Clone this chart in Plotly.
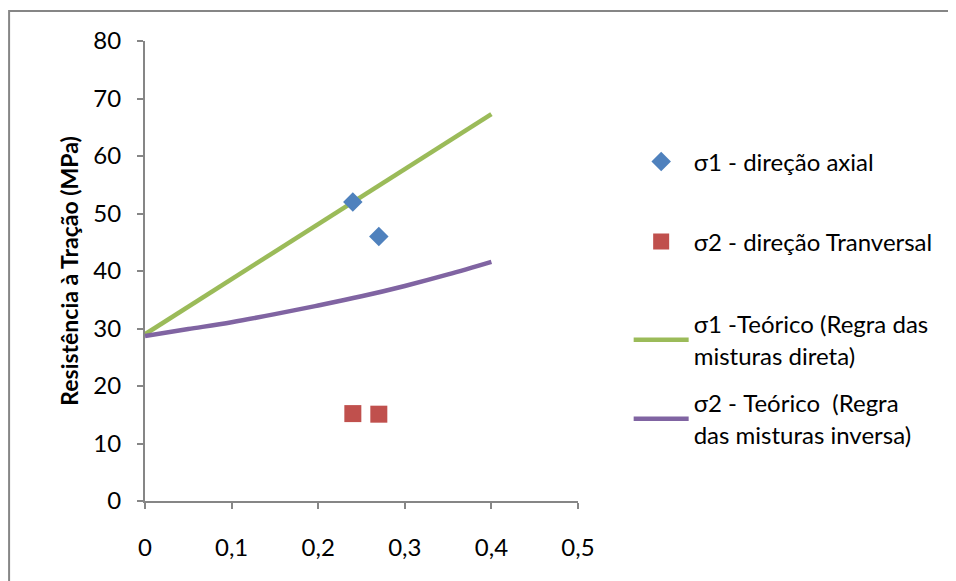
import plotly.graph_objects as go

# Data
vf_exp = [0.24, 0.27]
sigma1_exp = [52.0, 46.0]
sigma2_exp = [15.2, 15.1]

vf_theo = [0.0, 0.05, 0.1, 0.15, 0.2, 0.25, 0.3, 0.35, 0.4]
sigma1_theo = [29.0, 33.8, 38.6, 43.3, 48.1, 52.9, 57.7, 62.5, 67.3]
sigma2_theo = [28.7, 29.9, 31.1, 32.5, 34.0, 35.6, 37.4, 39.4, 41.6]

x_ticks = [0, 0.1, 0.2, 0.3, 0.4, 0.5]
x_ticklabels = ["0", "0,1", "0,2", "0,3", "0,4", "0,5"]
y_ticks = [0, 10, 20, 30, 40, 50, 60, 70, 80]

names = [
    "σ1 - direção axial",
    "σ2 - direção Tranversal",
    "σ1 -Teórico (Regra das<br>misturas direta)",
    "σ2 - Teórico  (Regra<br>das misturas inversa)",
]

FONT = "Lato, 'Open Sans', sans-serif"
AXIS = "#868686"
FS = 24

fig = go.Figure()
fig.add_trace(go.Scatter(x=vf_theo, y=sigma1_theo, mode="lines", name=names[2],
                         line=dict(color="#9BBB59", width=4.5), legend="legend3"))
fig.add_trace(go.Scatter(x=vf_theo, y=sigma2_theo, mode="lines", name=names[3],
                         line=dict(color="#8064A2", width=4.5, shape="spline"), legend="legend4"))
fig.add_trace(go.Scatter(x=vf_exp, y=sigma1_exp, mode="markers", name=names[0],
                         marker=dict(symbol="diamond", size=15, color="#4F81BD"), legend="legend"))
fig.add_trace(go.Scatter(x=vf_exp, y=sigma2_exp, mode="markers", name=names[1],
                         marker=dict(symbol="square", size=17, color="#C0504D"), legend="legend2"))

# the page body adds an 8px offset; work in page pixels and convert
OFF = 8
W, H = 956 - OFF, 581 - OFF
PL, PR, PT, PB = 145, 578.3, 41, 501  # plot area in page pixels
L = PL - OFF
T = PT - OFF
R = W - (PR - OFF)
B = H - (PB - OFF)
pw = W - L - R
ph = H - T - B

def px_to_paper_x(px):
    return (px - OFF - L) / pw

def px_to_paper_y(py):
    return (H - B - (py - OFF)) / ph

legend_common = dict(xanchor="left", yanchor="middle", bgcolor="rgba(0,0,0,0)",
                     font=dict(family=FONT, size=FS, color="#000000"), borderwidth=0,
                     itemwidth=55)

LX = 629
fig.update_layout(
    width=W, height=H, autosize=False,
    margin=dict(l=L, r=R, t=T, b=B, pad=0),
    paper_bgcolor="white", plot_bgcolor="white",
    separators=",.",
    showlegend=True,
    font=dict(family=FONT, size=FS, color="#000000"),
    legend=dict(x=px_to_paper_x(LX), y=px_to_paper_y(162), **legend_common),
    legend2=dict(x=px_to_paper_x(LX), y=px_to_paper_y(242), **legend_common),
    legend3=dict(x=px_to_paper_x(LX), y=px_to_paper_y(340), **legend_common),
    legend4=dict(x=px_to_paper_x(LX), y=px_to_paper_y(419), **legend_common),
    xaxis=dict(range=[0, 0.5], tickvals=x_ticks, ticktext=x_ticklabels, automargin=False,
               showgrid=False, zeroline=False, showline=True, linecolor=AXIS, linewidth=2,
               ticks="outside", ticklen=6, tickwidth=2, tickcolor=AXIS,
               ticklabelstandoff=18, tickfont=dict(family=FONT, size=FS)),
    yaxis=dict(range=[0, 80], tickvals=y_ticks, automargin=False,
               showgrid=False, zeroline=False, showline=True, linecolor=AXIS, linewidth=2,
               ticks="outside", ticklen=6, tickwidth=2, tickcolor=AXIS,
               ticklabelstandoff=11, tickfont=dict(family=FONT, size=FS),
               title=dict(text="<b>Resistência à Tração (MPa)</b>", standoff=8,
                          font=dict(family=FONT, size=23))),
    shapes=[dict(type="rect", xref="paper", yref="paper",
                 x0=px_to_paper_x(9), y0=px_to_paper_y(600),
                 x1=px_to_paper_x(980), y1=px_to_paper_y(11),
                 line=dict(color=AXIS, width=2), fillcolor="rgba(0,0,0,0)", layer="below")],
)

fig.write_html("out.html")
